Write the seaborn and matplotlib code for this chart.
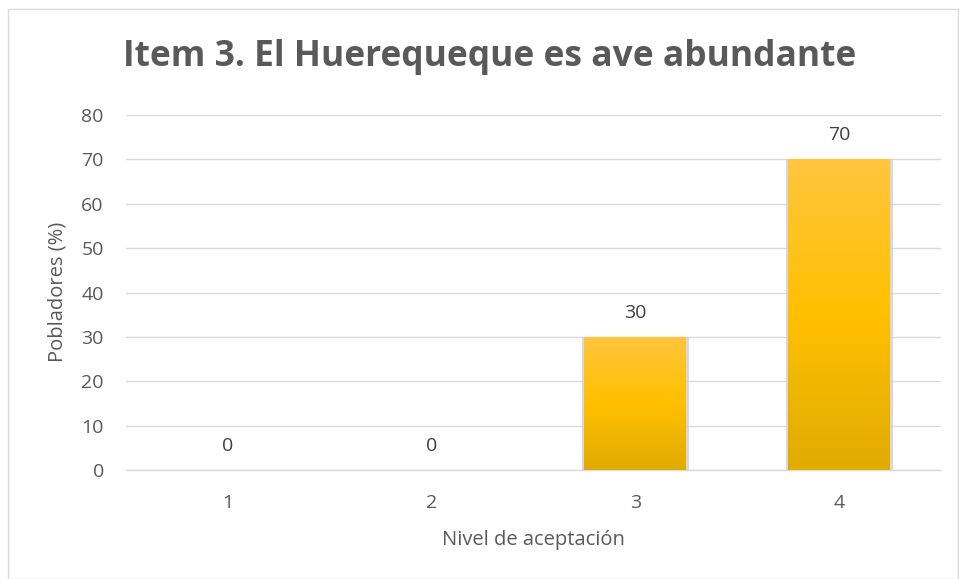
import numpy as np
import pandas as pd
import matplotlib
matplotlib.use("Agg")
import matplotlib.pyplot as plt
import seaborn as sns
from matplotlib.colors import LinearSegmentedColormap
from matplotlib.patches import Rectangle

categories = ["1", "2", "3", "4"]
values = [0, 0, 30, 70]
yticks = [0, 10, 20, 30, 40, 50, 60, 70, 80]
title = "Item 3. El Huerequeque es ave abundante"
xlabel = "Nivel de aceptación"
ylabel = "Pobladores (%)"

sns.set_theme(style="white")
plt.rcParams['font.family'] = ['Open Sans', 'DejaVu Sans']

W, H = 959, 579
fig = plt.figure(figsize=(W / 100, H / 100), dpi=100)
ax = fig.add_axes([126 / W, 1 - 470 / H, (941 - 126) / W, (470 - 115) / H])

df = pd.DataFrame({"cat": categories, "val": values})
sns.barplot(data=df, x="cat", y="val", ax=ax, width=0.5, color="#FFC000",
            saturation=1, zorder=3)

cmap = LinearSegmentedColormap.from_list("gold", ["#E0AB00", "#FFC000", "#FFC53E"])
grad = np.linspace(0, 1, 256).reshape(-1, 1)
for p in list(ax.patches):
    x0, y0 = p.get_x(), p.get_y()
    w, h = p.get_width(), p.get_height()
    p.set_edgecolor("none")
    if h <= 0:
        continue
    sh = Rectangle((x0 - 0.012, y0 - 0.35), w + 0.024, h + 0.35, facecolor="#cfcfcf",
                   edgecolor="none", zorder=2.9, alpha=0.8)
    ax.add_patch(sh)
    im = ax.imshow(grad, cmap=cmap, aspect="auto", origin="lower",
                   extent=(x0, x0 + w, y0, y0 + h), zorder=3.5)
    im.set_clip_path(p)
    p.set_facecolor("none")

for i, v in enumerate(values):
    ax.text(i, v + 5.4, f"{v}", ha="center", va="center", fontsize=14, color="#404040")

ax.set_xlim(-0.5, 3.5)
ax.set_ylim(0, 80)
ax.set_yticks(yticks)
ax.set_yticklabels([str(t) for t in yticks])
ax.yaxis.grid(True, color="#d9d9d9", linewidth=1, zorder=0)
ax.set_axisbelow(True)
for s in ["top", "right", "left"]:
    ax.spines[s].set_visible(False)
ax.spines["bottom"].set_color("#d9d9d9")
ax.spines["bottom"].set_linewidth(1)
ax.tick_params(axis="y", length=0, labelsize=14, labelcolor="#595959", pad=16)
ax.tick_params(axis="x", length=0, labelsize=14, labelcolor="#595959", pad=17)
ax.set_xlabel("")
ax.set_ylabel("")

fig.text(533 / W, 1 - 540 / H, xlabel, ha="center", va="center", fontsize=14.5,
         color="#595959")
fig.text(58 / W, 1 - 292 / H, ylabel, ha="center", va="center", fontsize=14.5,
         color="#595959", rotation=90)
fig.text(490 / W, 1 - 57 / H, title, ha="center", va="center", fontsize=25.5,
         fontweight="bold", color="#595959")

border = Rectangle((8 / W, 0), (W - 9) / W, 1 - 9 / H, transform=fig.transFigure,
                   facecolor="none", edgecolor="#d9d9d9", linewidth=1)
fig.patches.append(border)

fig.savefig("out.png", dpi=100)
